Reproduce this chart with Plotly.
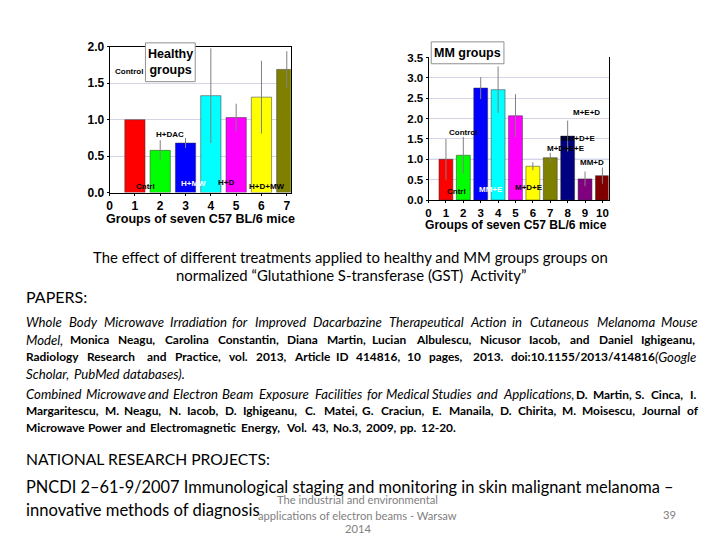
import plotly.graph_objects as go

# ---------------- data ----------------
healthy_groups = [1, 2, 3, 4, 5, 6, 7]
healthy_gst = [1.00, 0.58, 0.68, 1.33, 1.03, 1.31, 1.69]
healthy_err = [0.00, 0.14, 0.07, 0.65, 0.19, 0.50, 0.25]
healthy_colors = ["#ff0000", "#00ff00", "#0000ff", "#00ffff", "#ff00ff", "#ffff00", "#808000"]

mm_groups = [1, 2, 3, 4, 5, 6, 7, 8, 9, 10]
mm_gst = [1.00, 1.10, 2.75, 2.71, 2.07, 0.83, 1.04, 1.57, 0.52, 0.60]
mm_err = [0.50, 0.45, 0.27, 0.57, 0.53, 0.10, 0.12, 0.38, 0.18, 0.20]
mm_colors = ["#ff0000", "#00ff00", "#0000ff", "#00ffff", "#ff00ff", "#ffff00", "#808000",
             "#000080", "#800080", "#800000"]

x_title = "Groups of seven C57 BL/6 mice"
reference_level = 1.0

W, H = 720, 540
OX, OY, SY = 10, 13, 0.979  # page offset / scale compensation


def px(x):
    return (x - OX) / W


def py(y):
    return 1 - ((y - OY) / SY) / H


CH = "Liberation Sans"
TX = "Lato"

fig = go.Figure()
fig.add_trace(go.Bar(x=healthy_groups, y=healthy_gst, width=0.8,
                     marker=dict(color=healthy_colors, line=dict(color="#333333", width=0.5)),
                     error_y=dict(type="data", array=healthy_err, color="#808080", thickness=1, width=0),
                     xaxis="x", yaxis="y", showlegend=False))
fig.add_trace(go.Bar(x=mm_groups, y=mm_gst, width=0.8,
                     marker=dict(color=mm_colors, line=dict(color="#333333", width=0.5)),
                     error_y=dict(type="data", array=mm_err, color="#808080", thickness=1, width=0),
                     xaxis="x2", yaxis="y2", showlegend=False))


def axis_common(size):
    return dict(showline=True, linecolor="black", linewidth=1, ticks="outside", ticklen=2,
                tickcolor="black", zeroline=False,
                tickfont=dict(family=CH, size=size, color="black", weight="bold"))


fig.update_layout(
    width=W, height=H, margin=dict(l=0, r=0, t=0, b=0),
    paper_bgcolor="white", plot_bgcolor="white",
    xaxis=dict(domain=[px(109), px(291)], range=[0, 7.16], dtick=1, tick0=0, showgrid=False,
               mirror=True, anchor="y", **axis_common(12)),
    yaxis=dict(domain=[py(191.5), py(45)], range=[0, 2.0], dtick=0.5, tickformat=".1f",
               showgrid=True, gridcolor="#d4d4e6", gridwidth=1, mirror=True, anchor="x", **axis_common(12)),
    xaxis2=dict(domain=[px(429.3), px(610)], range=[0, 10.35], dtick=1, tick0=0, showgrid=False,
                mirror=False, anchor="y2", **axis_common(11.5)),
    yaxis2=dict(domain=[py(199), py(55.7)], range=[0, 3.5], dtick=0.5, tickformat=".1f",
                showgrid=True, gridcolor="#d4d4e6", gridwidth=1, mirror=True, anchor="x2",
                **axis_common(11.5)),
)

# reference line in MM chart
fig.add_shape(type="line", xref="x2 domain", yref="y2", x0=0, x1=1, y0=reference_level, y1=reference_level,
              line=dict(color="#8fa0e0", width=1), layer="below")

# x axis titles
fig.add_annotation(text="<b>" + x_title + "</b>", xref="paper", yref="paper", x=px(200), y=py(218),
                   showarrow=False, font=dict(family=CH, size=12.6, color="black"), xanchor="center",
                   yanchor="middle", borderpad=0)
fig.add_annotation(text="<b>" + x_title + "</b>", xref="paper", yref="paper", x=px(517), y=py(224.5),
                   showarrow=False, font=dict(family=CH, size=12.1, color="black"), xanchor="center",
                   yanchor="middle", borderpad=0)

# legend-like boxes
fig.add_shape(type="rect", xref="paper", yref="paper", x0=px(145), x1=px(195), y0=py(80), y1=py(41),
              fillcolor="white", line=dict(color="#909090", width=1), layer="above")
fig.add_annotation(text="<b>Healthy<br>groups</b>", xref="paper", yref="paper", x=px(170), y=py(60),
                   showarrow=False, font=dict(family=CH, size=12.5, color="black"), xanchor="center",
                   yanchor="middle", align="center")
fig.add_shape(type="rect", xref="paper", yref="paper", x0=px(432), x1=px(505), y0=py(62), y1=py(40),
              fillcolor="white", line=dict(color="#909090", width=1), layer="above")
fig.add_annotation(text="<b>MM groups</b>", xref="paper", yref="paper", x=px(468), y=py(51),
                   showarrow=False, font=dict(family=CH, size=12.5, color="black"), xanchor="center",
                   yanchor="middle")

# in-chart group labels (small, partly illegible in the source)
for t, x, y, col in [
    ("Control", 0.75, 1.66, "black"), ("H+DAC", 2.4, 0.80, "black"),
    ("Cntrl", 1.4, 0.09, "black"), ("H+MW", 3.3, 0.12, "white"),
    ("H+D", 4.6, 0.14, "black"), ("H+D+MW", 6.2, 0.09, "black"),
]:
    fig.add_annotation(text="<b>" + t + "</b>", xref="x", yref="y", x=x, y=y, showarrow=False,
                       font=dict(family=CH, size=8, color=col), xanchor="center", yanchor="middle")
for t, x, y, col in [
    ("Control", 2.0, 1.67, "black"), ("M+E+D", 9.1, 2.15, "black"), ("MM+D+E", 8.6, 1.52, "black"),
    ("M+D+E+E", 7.9, 1.27, "black"), ("MM+D", 9.4, 0.92, "black"),
    ("Cntrl", 1.6, 0.22, "black"), ("MM+E", 3.6, 0.25, "white"),
    ("M+D+E", 5.8, 0.30, "black"),
]:
    fig.add_annotation(text="<b>" + t + "</b>", xref="x2", yref="y2", x=x, y=y, showarrow=False,
                       font=dict(family=CH, size=8, color=col), xanchor="center", yanchor="middle")


# ---------------- slide text ----------------
def txt(s, x, y, size, color="black", anchor="left", family=TX):
    fig.add_annotation(text=s, xref="paper", yref="paper", x=px(x), y=py(y), showarrow=False,
                       font=dict(family=family, size=size, color=color), xanchor=anchor, yanchor="middle",
                       align=anchor, borderpad=0)


HELV = {' ': .278, 'a': .556, 'b': .556, 'c': .5, 'd': .556, 'e': .556, 'f': .278, 'g': .556, 'h': .556,
        'i': .222, 'j': .222, 'k': .5, 'l': .222, 'm': .833, 'n': .556, 'o': .556, 'p': .556, 'q': .556,
        'r': .333, 's': .5, 't': .278, 'u': .556, 'v': .5, 'w': .722, 'x': .5, 'y': .5, 'z': .5,
        'A': .667, 'B': .667, 'C': .722, 'D': .722, 'E': .667, 'F': .611, 'G': .778, 'H': .722, 'I': .278,
        'J': .5, 'K': .667, 'L': .556, 'M': .833, 'N': .722, 'O': .778, 'P': .667, 'Q': .778, 'R': .722,
        'S': .667, 'T': .611, 'U': .722, 'V': .667, 'W': .944, 'X': .667, 'Y': .667, 'Z': .611,
        ',': .278, '.': .278, '(': .333, ')': .333, '-': .333, '/': .278, ':': .278}
SIZES = {"i": 13.2, "b": 11.9, "r": 13.2}
FACT = {"i": 0.91, "b": 1.01, "r": 0.91}


def word_w(w, st, k=1.0):
    return sum(HELV.get(c, 0.556) for c in w) * SIZES[st] * FACT[st] * k


def para_line(segments, y, justify, x0=24, x1=698, min_gap=5.0):
    words = []
    for seg, st in segments:
        for w in seg.split():
            words.append((w, st))
    k = 1.0
    widths = [word_w(w, st) for w, st in words]
    n = len(words)
    if justify and n > 1:
        avail = x1 - x0 - min_gap * (n - 1)
        if sum(widths) > avail:
            k = avail / sum(widths)
            widths = [w * k for w in widths]
        gap = (x1 - x0 - sum(widths)) / (n - 1)
    else:
        gap = 4.5
    x = x0
    for (w, st), wd in zip(words, widths):
        s = {"i": "<i>%s</i>", "b": "<b>%s</b>", "r": "%s"}[st] % w
        fig.add_annotation(text=s, xref="paper", yref="paper", x=px(x), y=py(y), showarrow=False,
                           font=dict(family=TX, size=SIZES[st] * k, color="black"), xanchor="left",
                           yanchor="middle", borderpad=0)
        x += wd + gap


txt("The effect of different treatments applied to healthy and MM groups groups on", 351, 256, 14.9,
    anchor="center")
txt("normalized \u201cGlutathione S-transferase (GST)  Activity\u201d", 351, 274, 14.9, anchor="center")
txt("PAPERS:", 24, 296, 16)

p1 = [
    ([("Whole Body Microwave Irradiation for Improved Dacarbazine Therapeutical Action in Cutaneous "
       "Melanoma Mouse", "i")], True),
    ([("Model,", "i"), ("Monica Neagu, Carolina Constantin, Diana Martin, Lucian Albulescu, Nicusor Iacob, "
                        "and Daniel Ighigeanu,", "b")], True),
    ([("Radiology Research and Practice, vol. 2013, Article ID 414816, 10 pages, 2013. "
       "doi:10.1155/2013/414816", "b"), ("(Google", "i")], True),
    ([("Scholar, PubMed databases).", "i")], False),
]
for i, (segs, j) in enumerate(p1):
    para_line(segs, 322 + i * 17.3, j)

p2 = [
    ([("Combined Microwave and Electron Beam Exposure Facilities for Medical Studies and Applications,", "i"),
      ("D. Martin, S. Cinca, I.", "b")], True),
    ([("Margaritescu, M. Neagu, N. Iacob, D. Ighigeanu, C. Matei, G. Craciun, E. Manaila, D. Chirita, "
       "M. Moisescu, Journal of", "b")], True),
    ([("Microwave Power and Electromagnetic Energy, Vol. 43, No.3, 2009, pp. 12-20.", "b")], False),
]
for i, (segs, j) in enumerate(p2):
    para_line(segs, 394 + i * 17, j)

txt("NATIONAL RESEARCH PROJECTS:", 24, 459, 15.7)
txt("PNCDI 2\u201361-9/2007 Immunological staging and monitoring in skin malignant melanoma \u2013", 24, 487, 16.4)
txt("innovative methods of diagnosis", 24, 511, 16.6)

txt("The industrial and environmental", 358, 500, 11.2, color="#7f7f7f", anchor="center")
txt("applications of electron beams - Warsaw", 358, 516, 11.2, color="#7f7f7f", anchor="center")
txt("2014", 358, 529, 11.2, color="#7f7f7f", anchor="center")
txt("39", 671, 515, 11.2, color="#7f7f7f", anchor="center")

fig.write_html("out.html")
